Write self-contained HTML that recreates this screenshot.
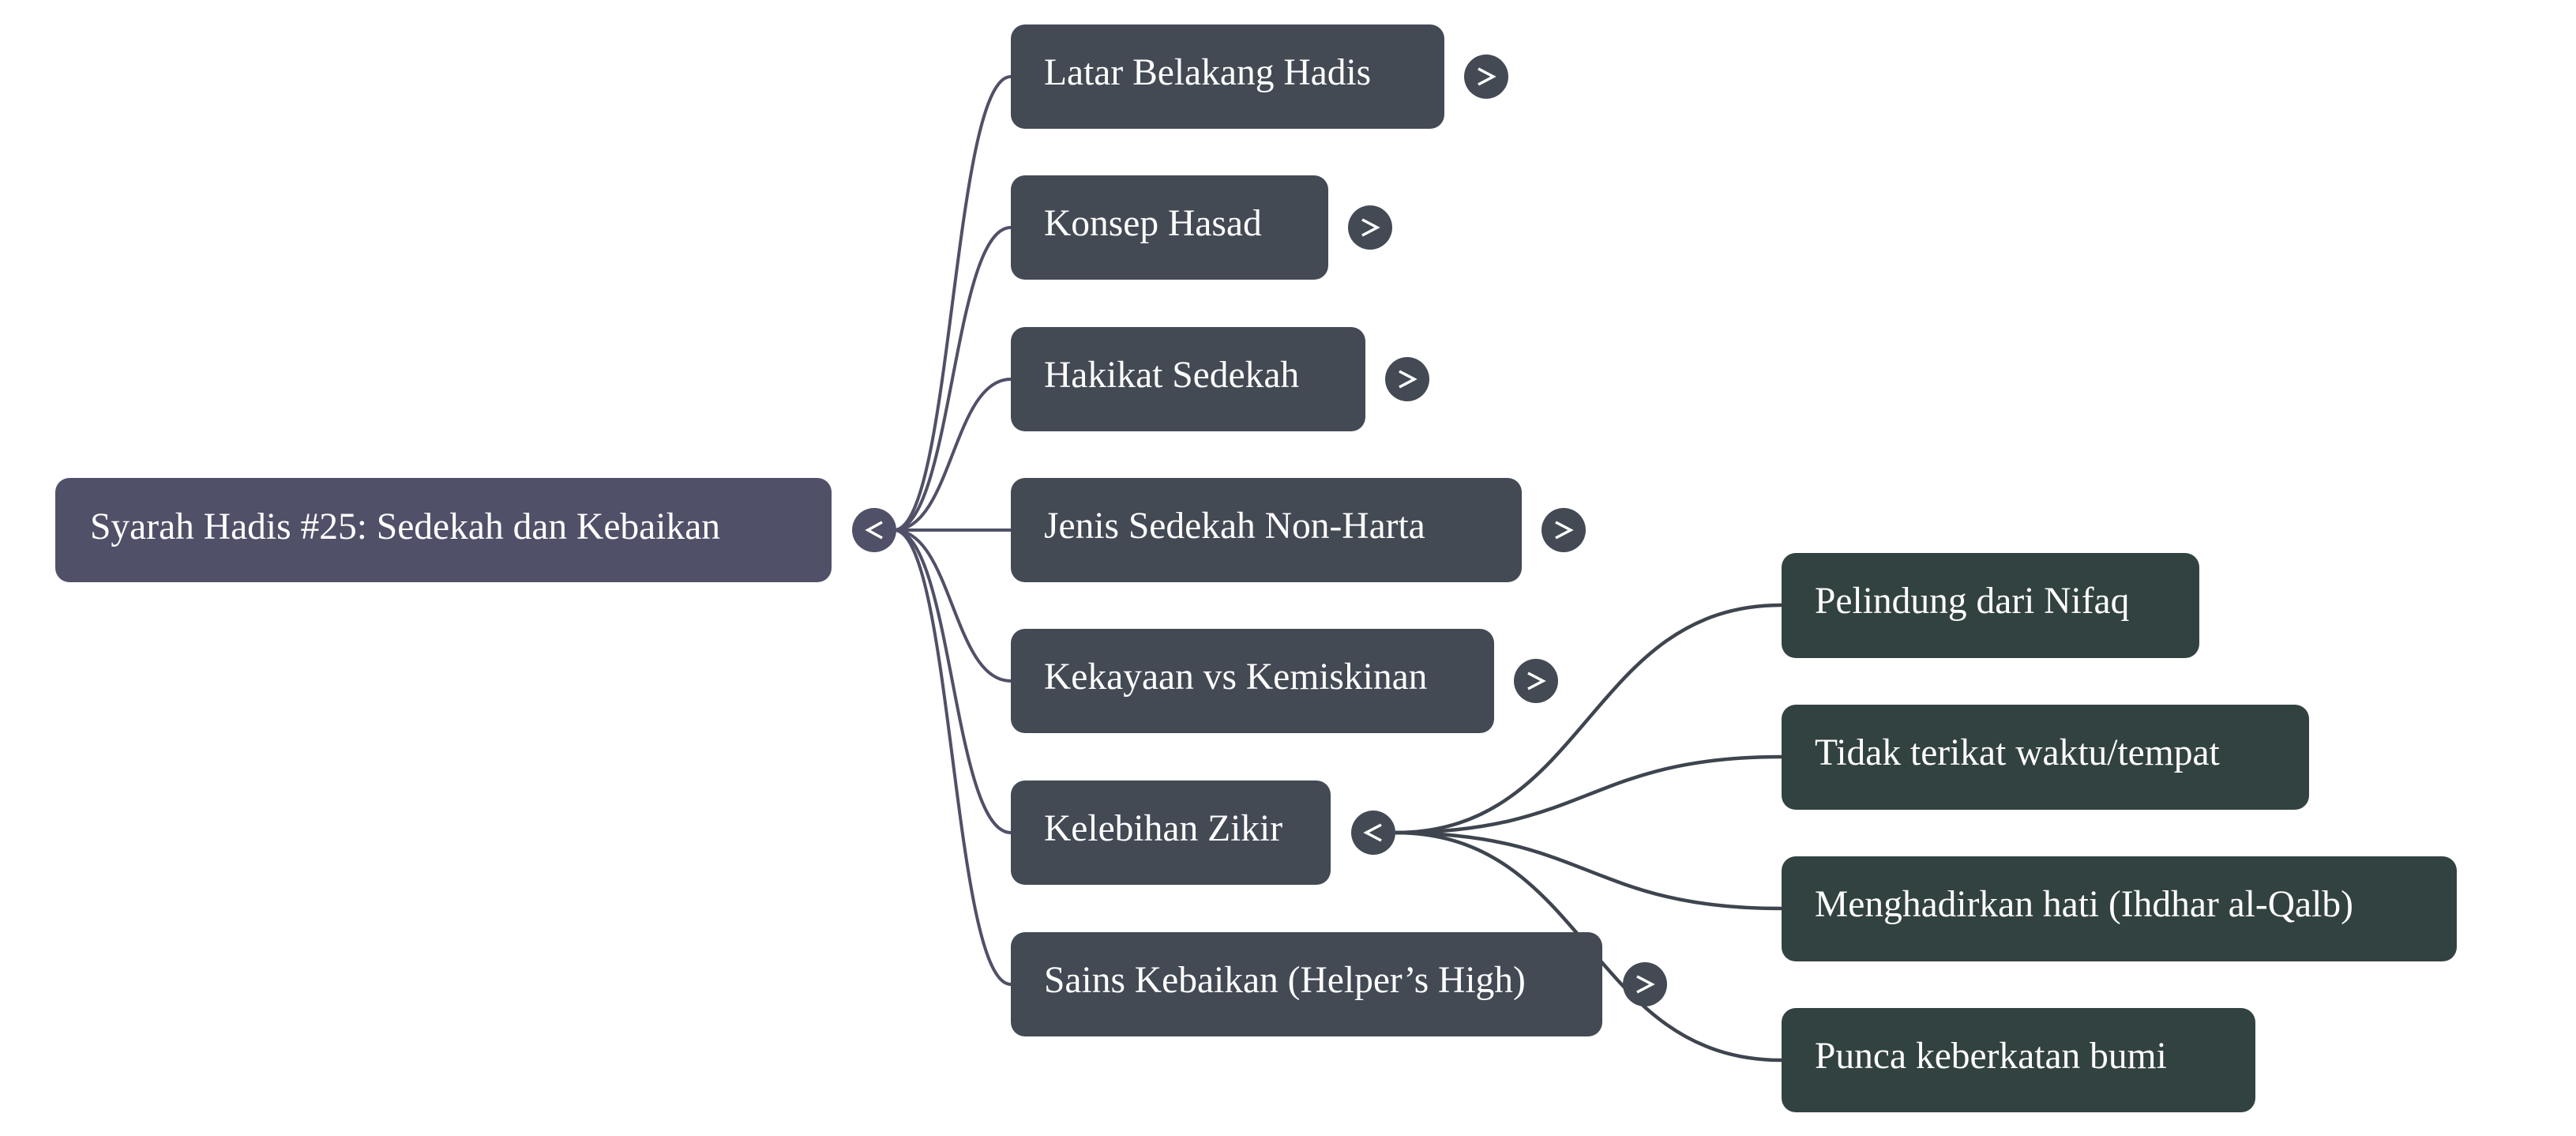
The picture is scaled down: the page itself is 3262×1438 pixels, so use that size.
<!DOCTYPE html>
<html><head><meta charset="utf-8"><style>
html,body{margin:0;padding:0;background:#fff;}
svg{display:block;}
text{font-family:"Liberation Serif",serif;font-size:47.5px;fill:#fff;}
</style></head><body>
<svg width="3262" height="1438" viewBox="0 0 3262 1438" xmlns="http://www.w3.org/2000/svg">
<g fill="none" stroke="#505068" stroke-width="4">
<path d="M1132 671 C1206 671 1206 97 1280 97"/>
<path d="M1132 671 C1206 671 1206 288 1280 288"/>
<path d="M1132 671 C1206 671 1206 480 1280 480"/>
<path d="M1132 671 L1280 671"/>
<path d="M1132 671 C1206 671 1206 862 1280 862"/>
<path d="M1132 671 C1206 671 1206 1054 1280 1054"/>
<path d="M1132 671 C1206 671 1206 1246 1280 1246"/>
</g>
<g fill="none" stroke="#3e454f" stroke-width="4.5">
<path d="M1767 1054 C2011 1054 2011 766 2256 766"/>
<path d="M1767 1054 C2011 1054 2011 958 2256 958"/>
<path d="M1767 1054 C2011 1054 2011 1150 2256 1150"/>
<path d="M1767 1054 C2011 1054 2011 1342 2256 1342"/>
</g>
<rect x="70" y="605" width="983" height="132" rx="18" fill="#505168"/>
<text x="114" y="682">Syarah Hadis #25: Sedekah dan Kebaikan</text>
<circle cx="1107" cy="671" r="28" fill="#505168"/>
<path d="M1117 661 L1099 671 L1117 681" fill="none" stroke="#fff" stroke-width="3.5"/>
<g fill="#434a54">
<rect x="1280" y="31" width="549" height="132" rx="18"/>
<rect x="1280" y="222" width="402" height="132" rx="18"/>
<rect x="1280" y="414" width="449" height="132" rx="18"/>
<rect x="1280" y="605" width="647" height="132" rx="18"/>
<rect x="1280" y="796" width="612" height="132" rx="18"/>
<rect x="1280" y="988" width="405" height="132" rx="18"/>
<rect x="1280" y="1180" width="749" height="132" rx="18"/>
<circle cx="1882" cy="97" r="28"/>
<circle cx="1735" cy="288" r="28"/>
<circle cx="1782" cy="480" r="28"/>
<circle cx="1980" cy="671" r="28"/>
<circle cx="1945" cy="862" r="28"/>
<circle cx="1739" cy="1054" r="28"/>
<circle cx="2083" cy="1246" r="28"/>
</g>
<g fill="none" stroke="#fff" stroke-width="3.5">
<path d="M1872 87 L1891 97 L1872 107"/>
<path d="M1725 278 L1744 288 L1725 298"/>
<path d="M1772 470 L1791 480 L1772 490"/>
<path d="M1970 661 L1989 671 L1970 681"/>
<path d="M1935 852 L1954 862 L1935 872"/>
<path d="M1749 1044 L1730 1054 L1749 1064"/>
<path d="M2073 1236 L2092 1246 L2073 1256"/>
</g>
<text x="1322" y="107">Latar Belakang Hadis</text>
<text x="1322" y="298">Konsep Hasad</text>
<text x="1322" y="490">Hakikat Sedekah</text>
<text x="1322" y="681">Jenis Sedekah Non-Harta</text>
<text x="1322" y="872">Kekayaan vs Kemiskinan</text>
<text x="1322" y="1064">Kelebihan Zikir</text>
<text x="1322" y="1256">Sains Kebaikan (Helper’s High)</text>
<g fill="#324240">
<rect x="2256" y="700" width="529" height="133" rx="18"/>
<rect x="2256" y="892" width="668" height="133" rx="18"/>
<rect x="2256" y="1084" width="855" height="133" rx="18"/>
<rect x="2256" y="1276" width="600" height="132" rx="18"/>
</g>
<text x="2298" y="776">Pelindung dari Nifaq</text>
<text x="2298" y="968">Tidak terikat waktu/tempat</text>
<text x="2298" y="1160">Menghadirkan hati (Ihdhar al-Qalb)</text>
<text x="2298" y="1352">Punca keberkatan bumi</text>
</svg>
</body></html>
